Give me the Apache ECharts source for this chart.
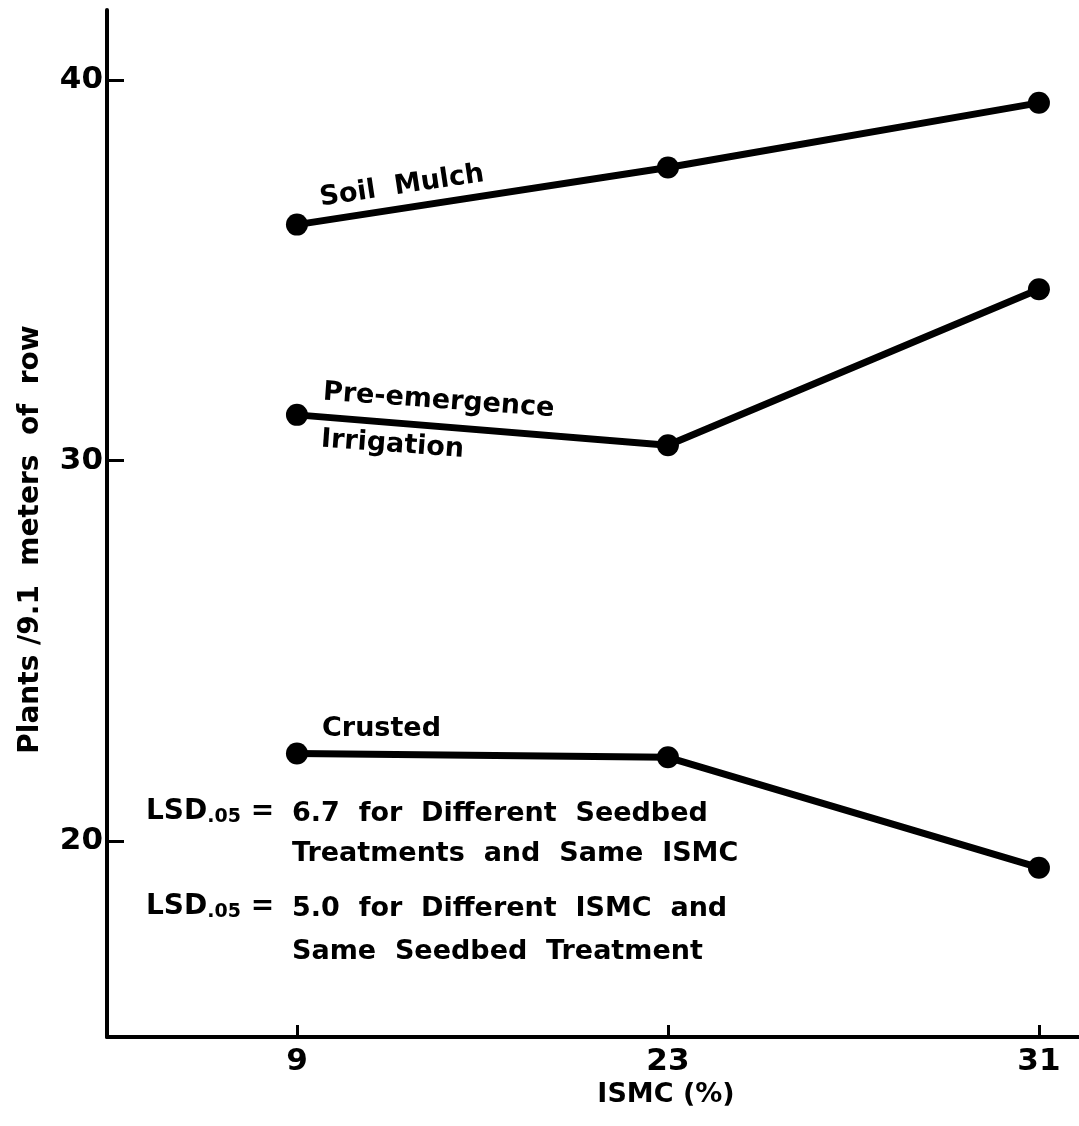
<!DOCTYPE html>
<html>
<head>
<meta charset="utf-8">
<script src="https://cdn.jsdelivr.net/npm/echarts@6/dist/echarts.min.js"></script>
<style>
  html, body { margin: 0; padding: 0; background: #fff; }
  #chart { width: 1079px; height: 1126px; }
</style>
</head>
<body>
<div id="chart"></div>
<script>
// Initial soil moisture content levels (x categories, evenly spaced)
const ismcLabels = ['9', '23', '31'];

// Plants per 9.1 m of row for each seedbed treatment
const soilMulch    = [36.2, 37.7, 39.4];
const preEmergence = [31.2, 30.4, 34.5];
const crusted      = [22.3, 22.2, 19.3];

// Y tick labels
const yTicks = [20, 30, 40];

const FONT = 'DejaVu Sans';
const INK = '#000';

function toPoints(values) {
  return values.map((v, i) => [i, v]);
}

const lineStyle = { color: INK, width: 7 };
function makeSeries(name, values) {
  return {
    name: name,
    type: 'line',
    data: toPoints(values),
    symbol: 'circle',
    symbolSize: 22,
    itemStyle: { color: INK },
    lineStyle: lineStyle,
    emphasis: { disabled: true },
    animation: false
  };
}

const chart = echarts.init(document.getElementById('chart'), null, { renderer: 'canvas' });

const textStyle = (size) => ({ font: 'bold ' + size + 'px "' + FONT + '"', fill: INK });
const lsdRich = {
  m: { font: 'bold 28px "' + FONT + '"', fill: INK },
  s: { font: 'bold 19px "' + FONT + '"', fill: INK, padding: [12, 0, 0, 0] }
};

chart.setOption({
  backgroundColor: '#fff',
  animation: false,
  grid: { left: 107, right: 0, top: 10, bottom: 89, containLabel: false },
  xAxis: {
    type: 'value',
    min: -0.512,
    max: 2.108,
    name: 'ISMC (%)',
    nameLocation: 'middle',
    nameGap: 44,
    nameTextStyle: { fontFamily: FONT, fontWeight: 'bold', fontSize: 27, color: INK, padding: [0, 0, 0, 146] },
    axisLine: { show: true, onZero: false, lineStyle: { color: INK, width: 4 } },
    axisTick: { show: true, inside: true, length: 12, customValues: [0, 1, 2], lineStyle: { color: INK, width: 3 } },
    axisLabel: {
      customValues: [0, 1, 2],
      formatter: (v) => ismcLabels[Math.round(v)],
      fontFamily: FONT, fontWeight: 'bold', fontSize: 31, color: INK, margin: 9
    },
    splitLine: { show: false }
  },
  yAxis: {
    type: 'value',
    min: 14.85,
    max: 41.84,
    name: 'Plants /9.1  meters  of  row',
    nameLocation: 'middle',
    nameGap: 62,
    nameTextStyle: { fontFamily: FONT, fontWeight: 'bold', fontSize: 28, color: INK, padding: [0, 32, 0, 0] },
    axisLine: { show: true, onZero: false, lineStyle: { color: INK, width: 4 } },
    axisTick: { show: true, inside: true, length: 17, customValues: yTicks, lineStyle: { color: INK, width: 3 } },
    axisLabel: {
      customValues: yTicks,
      fontFamily: FONT, fontWeight: 'bold', fontSize: 31, color: INK, margin: 4
    },
    splitLine: { show: false }
  },
  series: [
    makeSeries('Soil Mulch', soilMulch),
    makeSeries('Pre-emergence Irrigation', preEmergence),
    makeSeries('Crusted', crusted)
  ],
  graphic: [
    // Treatment labels placed along their lines
    { type: 'text', x: 322, y: 212, rotation: 0.15,
      style: Object.assign({ text: 'Soil  Mulch', textVerticalAlign: 'bottom' }, textStyle(27)) },
    { type: 'text', x: 322, y: 406, rotation: -0.072,
      style: Object.assign({ text: 'Pre-emergence', textVerticalAlign: 'bottom' }, textStyle(27)) },
    { type: 'text', x: 320, y: 453, rotation: -0.072,
      style: Object.assign({ text: 'Irrigation', textVerticalAlign: 'bottom' }, textStyle(27)) },
    { type: 'text', x: 322, y: 742,
      style: Object.assign({ text: 'Crusted', textVerticalAlign: 'bottom' }, textStyle(27)) },

    // Least significant difference notes
    { type: 'text', x: 146, y: 827,
      style: { text: '{m|LSD}{s|.05}{m| =}', textVerticalAlign: 'bottom', rich: lsdRich } },
    { type: 'text', x: 292, y: 827,
      style: Object.assign({ text: '6.7  for  Different  Seedbed', textVerticalAlign: 'bottom' }, textStyle(27)) },
    { type: 'text', x: 292, y: 867,
      style: Object.assign({ text: 'Treatments  and  Same  ISMC', textVerticalAlign: 'bottom' }, textStyle(27)) },
    { type: 'text', x: 146, y: 922,
      style: { text: '{m|LSD}{s|.05}{m| =}', textVerticalAlign: 'bottom', rich: lsdRich } },
    { type: 'text', x: 292, y: 922,
      style: Object.assign({ text: '5.0  for  Different  ISMC  and', textVerticalAlign: 'bottom' }, textStyle(27)) },
    { type: 'text', x: 292, y: 965,
      style: Object.assign({ text: 'Same  Seedbed  Treatment', textVerticalAlign: 'bottom' }, textStyle(27)) }
  ]
});
</script>
</body>
</html>
